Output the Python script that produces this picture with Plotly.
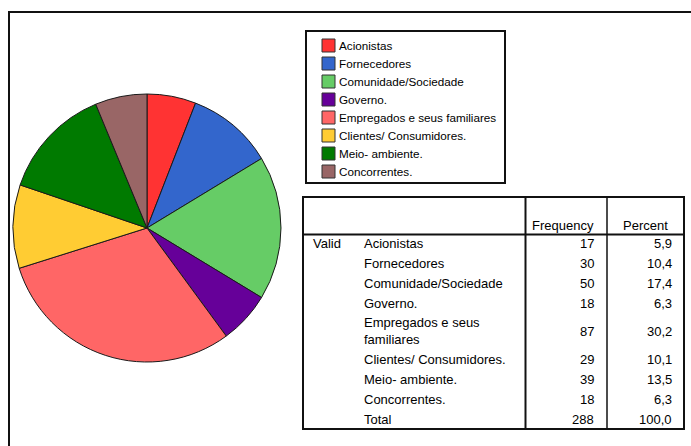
import textwrap
import plotly.graph_objects as go

# Stakeholder categories with their frequencies and percentages
categories = [
    "Acionistas",
    "Fornecedores",
    "Comunidade/Sociedade",
    "Governo.",
    "Empregados e seus familiares",
    "Clientes/ Consumidores.",
    "Meio- ambiente.",
    "Concorrentes.",
]
frequency = [17, 30, 50, 18, 87, 29, 39, 18]
percent = [5.9, 10.4, 17.4, 6.3, 30.2, 10.1, 13.5, 6.3]
total_frequency = 288
total_percent = 100.0
colors = ["#ff3333", "#3366cc", "#66cc66", "#660099",
          "#ff6666", "#ffcc33", "#007a00", "#996666"]
header_labels = ["Frequency", "Percent"]
group_label = "Valid"
total_label = "Total"

W, H = 691, 446
FONT = "Liberation Sans, Arial, sans-serif"
INK = "#111111"


def px(x):
    return x / W


def py(y):
    return 1 - y / H


def comma(v):
    return f"{v:.1f}".replace(".", ",")


fig = go.Figure()

# Pie chart, clockwise from 12 o'clock
cx, cy, r = 147, 228, 134
fig.add_trace(go.Pie(
    values=frequency,
    labels=categories,
    marker=dict(colors=colors, line=dict(color="#1a1a1a", width=1)),
    sort=False,
    direction="clockwise",
    rotation=0,
    textinfo="none",
    showlegend=False,
    domain=dict(x=[px(cx - r), px(cx + r)], y=[py(cy + r), py(cy - r)]),
))

shapes = []
annotations = []


def line(x0, y0, x1, y1, width=2, color=INK):
    shapes.append(dict(type="line", xref="paper", yref="paper",
                       x0=px(x0), y0=py(y0), x1=px(x1), y1=py(y1),
                       line=dict(color=color, width=width)))


def rect(x0, y0, x1, y1, fill="rgba(0,0,0,0)", width=2, color=INK):
    shapes.append(dict(type="rect", xref="paper", yref="paper",
                       x0=px(x0), y0=py(y0), x1=px(x1), y1=py(y1),
                       fillcolor=fill, line=dict(color=color, width=width)))


def text(x, y, s, anchor="left", size=13):
    annotations.append(dict(xref="paper", yref="paper", x=px(x), y=py(y),
                            text=s, showarrow=False, xanchor=anchor,
                            yanchor="middle", align=anchor if anchor != "center" else "center",
                            font=dict(family=FONT, size=size, color="#000000"),
                            borderpad=0))


# Outer frame
line(9, H + 5, 9, 12)
line(8, 12, W + 5, 12)

# Legend box
rect(306, 31, 505, 183)
for i, (name, col) in enumerate(zip(categories, colors)):
    top = 39 + 18 * i
    rect(322, top, 335, top + 13, fill=col, width=1, color="#333333")
    text(338, top + 6.5, name, size=11.7)

# Frequency table frame
t_left, t_top, t_right, t_bottom = 303, 197, 684, 429
col1, col2 = 525.5, 607
head_line = 234.5
rect(t_left, t_top, t_right, t_bottom)
line(t_left, head_line, t_right, head_line)
line(col1, t_top, col1, t_bottom)
line(col2, t_top, col2, t_bottom, width=1.5)

# Header row
text((col1 + col2) / 2 - 3, 225, header_labels[0], anchor="center")
text((col2 + t_right) / 2, 225, header_labels[1], anchor="center")

# Body rows (two-line labels get a taller row)
rows = [(c, str(f), comma(p)) for c, f, p in zip(categories, frequency, percent)]
rows.append((total_label, str(total_frequency), comma(total_percent)))

y = 233
for i, (label, f, p) in enumerate(rows):
    wrapped = textwrap.wrap(label, 23)
    h = 20 + 16 * (len(wrapped) - 1)
    mid = y + h / 2
    if i == 0:
        text(312, mid, group_label)
    text(363, mid, "<br>".join(wrapped))
    text(595, mid, f, anchor="right")
    text(673, mid, p, anchor="right")
    y += h

fig.update_layout(
    width=W,
    height=H,
    margin=dict(l=0, r=0, t=0, b=0),
    paper_bgcolor="white",
    plot_bgcolor="white",
    shapes=shapes,
    annotations=annotations,
)

fig.write_html("out.html")
